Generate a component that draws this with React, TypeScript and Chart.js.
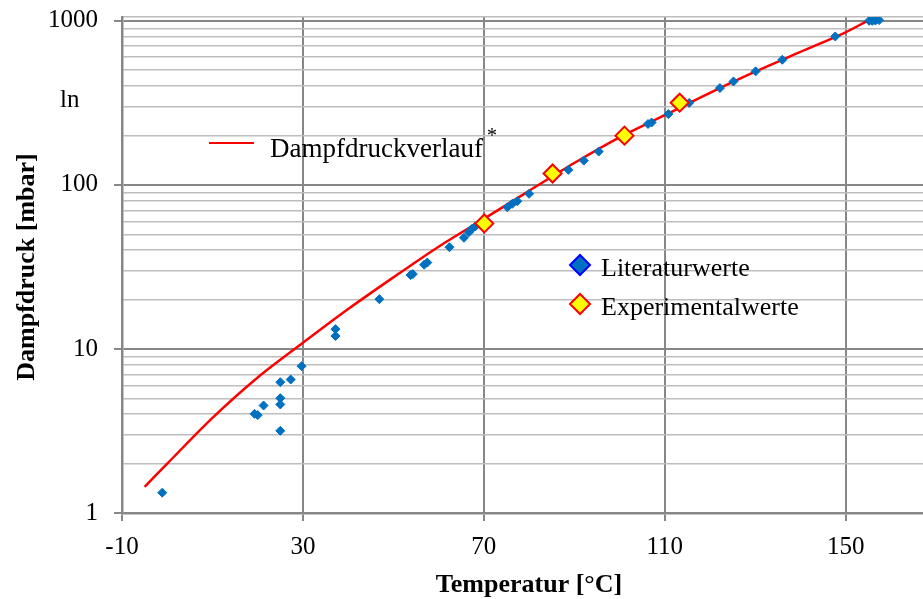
import React, { useEffect, useRef } from 'react';
import { Chart, registerables } from 'chart.js';

Chart.register(...registerables);

// Dampfdruckverlauf (Kurve)
const curveTemps = [-5, 0, 10, 20, 30, 40, 50, 60, 70, 80, 90, 100, 110, 120, 130, 140, 150, 154.8];
const curvePressures = [1.445, 2.0, 3.8, 6.7, 10.9, 17.5, 27.3, 42, 62, 92, 136, 195, 266, 364, 490, 646, 851, 1000];

// Literaturwerte
const litTemps = [
  -1.1, 19.3, 20.0, 21.3, 25.0, 25.0, 25.0, 25.0, 27.3, 29.7, 37.2, 37.2, 46.9, 53.8, 54.3, 56.8, 57.5,
  62.4, 65.6, 66.7, 67.4, 68.1, 75.2, 76.3, 77.4, 80.0, 85.1, 88.7, 92.1, 95.4, 106.3, 107.1, 110.8,
  115.4, 122.2, 125.2, 130.1, 136.0, 147.7, 155.2, 155.9, 156.6, 157.4,
];
const litPressures = [
  1.33, 4.02, 3.95, 4.52, 6.27, 5.01, 4.59, 3.17, 6.51, 7.85, 13.2, 12.0, 20.1, 28.2, 28.6, 32.6, 33.6,
  41.7, 47.6, 51.5, 54.0, 55.8, 73.1, 76.7, 79.5, 88.2, 114, 123.5, 140.6, 159.6, 235, 240, 270,
  316, 389, 427, 492, 579, 803, 1000, 1000, 1005, 1010,
];

// Experimentalwerte
const expTemps = [70.1, 85.2, 101.1, 113.3];
const expPressures = [58.2, 117.3, 199.6, 317];

// Achsen
const xTickValues = [-10, 30, 70, 110, 150];
const yLabelValues = [1, 10, 100, 1000];
const yGridValues = [
  1, 2, 3, 4, 5, 6, 7, 8, 9,
  10, 20, 30, 40, 50, 60, 70, 80, 90,
  100, 200, 300, 400, 500, 600, 700, 800, 900,
  1000, 1055,
];

const SERIF = '"Liberation Serif", "Times New Roman", serif';
const MAJOR = '#878787';
const MINOR = '#BDBDBD';
const PLOT_RIGHT = 923;

const toPoints = (xs: number[], ys: number[]) => xs.map((x, i) => ({ x, y: ys[i] }));

const diamond = (ctx: CanvasRenderingContext2D, x: number, y: number, r: number, fill: string, stroke: string, lw: number) => {
  ctx.beginPath();
  ctx.moveTo(x - r, y);
  ctx.lineTo(x, y - r);
  ctx.lineTo(x + r, y);
  ctx.lineTo(x, y + r);
  ctx.closePath();
  ctx.fillStyle = fill;
  ctx.fill();
  ctx.lineWidth = lw;
  ctx.strokeStyle = stroke;
  ctx.stroke();
};

// stretch the plot area to the right edge of the canvas
const stretchPlugin = {
  id: 'stretchPlugin',
  afterLayout(chart: any) {
    const area = chart.chartArea;
    area.right = PLOT_RIGHT;
    area.width = PLOT_RIGHT - area.left;
    const xs = chart.scales.x;
    xs.right = PLOT_RIGHT;
    xs.width = PLOT_RIGHT - xs.left;
    xs.configure();
    xs._gridLineItems = null;
    xs._labelItems = null;
    const ys = chart.scales.y;
    ys._gridLineItems = null;
  },
};

const textPlugin = {
  id: 'textPlugin',
  afterDraw(chart: any) {
    const ctx: CanvasRenderingContext2D = chart.ctx;
    ctx.save();
    ctx.fillStyle = '#000';
    ctx.textBaseline = 'alphabetic';

    // Legende 1
    ctx.strokeStyle = '#FF0000';
    ctx.lineWidth = 2;
    ctx.beginPath();
    ctx.moveTo(209, 143);
    ctx.lineTo(254, 143);
    ctx.stroke();
    ctx.font = `27px ${SERIF}`;
    ctx.textAlign = 'left';
    ctx.fillText('Dampfdruckverlauf', 270, 157);
    ctx.font = `20px ${SERIF}`;
    ctx.fillText('*', 487, 142);

    // Legende 2
    diamond(ctx, 580, 265, 10, '#0070C0', '#0000FF', 2);
    diamond(ctx, 580, 304, 10, '#FFFF00', '#FF0000', 2);
    ctx.fillStyle = '#000';
    ctx.font = `26px ${SERIF}`;
    ctx.fillText('Literaturwerte', 601, 276);
    ctx.fillText('Experimentalwerte', 601, 315);

    // "ln"
    ctx.font = `25px ${SERIF}`;
    ctx.fillText('ln', 60, 107);

    // Achsentitel
    ctx.font = `bold 26px ${SERIF}`;
    ctx.textAlign = 'center';
    ctx.fillText('Temperatur [°C]', 529, 592);
    ctx.translate(34, 267);
    ctx.rotate(-Math.PI / 2);
    ctx.fillText('Dampfdruck [mbar]', 0, 0);
    ctx.restore();
  },
};

const noPadding = (axis: any) => {
  axis.paddingTop = 0;
  axis.paddingBottom = 0;
  axis.paddingLeft = 0;
  axis.paddingRight = 0;
};

export default function App() {
  const canvasRef = useRef<HTMLCanvasElement>(null);

  useEffect(() => {
    if (!canvasRef.current) return;
    const chart = new Chart(canvasRef.current, {
      type: 'scatter',
      data: {
        datasets: [
          {
            label: 'Experimentalwerte',
            data: toPoints(expTemps, expPressures),
            pointStyle: 'rectRot',
            pointRadius: 9,
            backgroundColor: '#FFFF00',
            borderColor: '#FF0000',
            borderWidth: 2,
          },
          {
            label: 'Literaturwerte',
            data: toPoints(litTemps, litPressures),
            pointStyle: 'rectRot',
            pointRadius: 4.5,
            backgroundColor: '#0070C0',
            borderColor: '#0070C0',
            borderWidth: 1,
          },
          {
            label: 'Dampfdruckverlauf',
            data: toPoints(curveTemps, curvePressures),
            showLine: true,
            tension: 0.3,
            pointRadius: 0,
            borderColor: '#FF0000',
            backgroundColor: '#FF0000',
            borderWidth: 2.5,
            fill: false,
          } as any,
        ],
      },
      options: {
        animation: false,
        responsive: true,
        maintainAspectRatio: false,
        devicePixelRatio: 1,
        events: [],
        layout: { padding: { top: 17, right: 0, bottom: 0, left: 0 } },
        plugins: {
          legend: { display: false },
          tooltip: { enabled: false },
        },
        scales: {
          x: {
            type: 'linear',
            min: -10,
            max: 167.1,
            afterBuildTicks: (axis: any) => {
              axis.ticks = xTickValues.map((v) => ({ value: v }));
            },
            afterFit: (axis: any) => {
              axis.height = 86;
              noPadding(axis);
            },
            ticks: {
              autoSkip: false,
              maxRotation: 0,
              padding: 11,
              color: '#000',
              font: { family: SERIF, size: 25 },
              callback: (v: any) => String(v),
            },
            grid: {
              color: MAJOR,
              lineWidth: 2,
              tickColor: MAJOR,
              tickLength: 8,
            },
            border: { display: true, color: MAJOR, width: 2.5 },
          },
          y: {
            type: 'logarithmic',
            min: 1,
            max: 1055,
            afterBuildTicks: (axis: any) => {
              axis.ticks = yGridValues.map((v) => ({ value: v, major: yLabelValues.includes(v) }));
            },
            afterFit: (axis: any) => {
              axis.width = 122;
              noPadding(axis);
            },
            ticks: {
              autoSkip: false,
              padding: 16,
              color: '#000',
              font: { family: SERIF, size: 25 },
              callback: (v: any) => (yLabelValues.includes(Number(v)) ? String(v) : ''),
            },
            grid: {
              color: (c: any) => (yLabelValues.includes(c.tick?.value) ? MAJOR : MINOR),
              lineWidth: (c: any) => (yLabelValues.includes(c.tick?.value) ? 2 : 1.5),
              tickColor: (c: any) => (yLabelValues.includes(c.tick?.value) ? MAJOR : 'rgba(0,0,0,0)'),
              tickLength: 8,
            },
            border: { display: true, color: MAJOR, width: 2.5 },
          },
        },
      },
      plugins: [stretchPlugin, textPlugin],
    });
    return () => chart.destroy();
  }, []);

  return (
    <div style={{ position: 'fixed', left: 0, top: 0, width: 923, height: 599, background: '#fff' }}>
      <div style={{ position: 'relative', width: 923, height: 599 }}>
        <canvas ref={canvasRef} />
      </div>
    </div>
  );
}
